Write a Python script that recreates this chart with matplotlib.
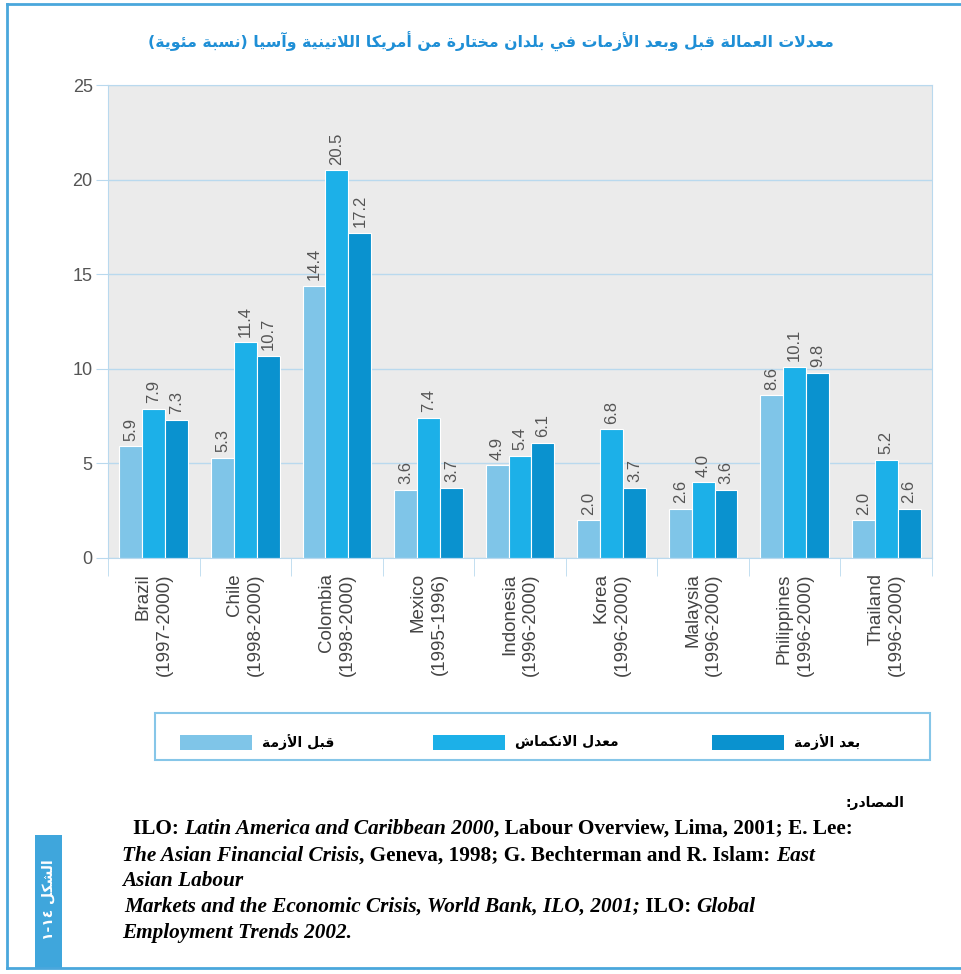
import matplotlib.pyplot as plt
from matplotlib.patches import Rectangle
from matplotlib.lines import Line2D
import numpy as np

# Data
countries = ["Brazil", "Chile", "Colombia", "Mexico", "Indonesia",
             "Korea", "Malaysia", "Philippines", "Thailand"]
periods = ["(1997-2000)", "(1998-2000)", "(1998-2000)", "(1995-1996)", "(1996-2000)",
           "(1996-2000)", "(1996-2000)", "(1996-2000)", "(1996-2000)"]
before_crisis = [5.9, 5.3, 14.4, 3.6, 4.9, 2.0, 2.6, 8.6, 2.0]
peak_rate = [7.9, 11.4, 20.5, 7.4, 5.4, 6.8, 4.0, 10.1, 5.2]
after_crisis = [7.3, 10.7, 17.2, 3.7, 6.1, 3.7, 3.6, 9.8, 2.6]
series_labels = ["قبل الأزمة", "معدل الانكماش", "بعد الأزمة"]
title = "معدلات العمالة قبل وبعد الأزمات في بلدان مختارة من أمريكا اللاتينية وآسيا (نسبة مئوية)"
sources_head = "المصادر"
figure_tag = "الشكل"

COLORS = ["#7fc5e8", "#1cb0e8", "#0a92cf"]
GRID = "#b9d9ee"
FRAME = "#4aa7dc"

# Arabic presentation forms: matplotlib does no shaping, so do it here
DUAL = {"ئ": 0xFE89, "ب": 0xFE8F, "ت": 0xFE95, "ث": 0xFE99, "ج": 0xFE9D, "ح": 0xFEA1,
        "خ": 0xFEA5, "س": 0xFEB1, "ش": 0xFEB5, "ص": 0xFEB9, "ض": 0xFEBD, "ط": 0xFEC1,
        "ظ": 0xFEC5, "ع": 0xFEC9, "غ": 0xFECD, "ف": 0xFED1, "ق": 0xFED5, "ك": 0xFED9,
        "ل": 0xFEDD, "م": 0xFEE1, "ن": 0xFEE5, "ه": 0xFEE9, "ي": 0xFEF1}
RIGHT = {"آ": 0xFE81, "أ": 0xFE83, "ؤ": 0xFE85, "إ": 0xFE87, "ا": 0xFE8D, "ة": 0xFE93,
         "د": 0xFEA9, "ذ": 0xFEAB, "ر": 0xFEAD, "ز": 0xFEAF, "و": 0xFEED, "ى": 0xFEEF}
LAM_ALEF = {"آ": 0xFEF5, "أ": 0xFEF7, "إ": 0xFEF9, "ا": 0xFEFB}


def shape(text):
    toks = []
    i = 0
    while i < len(text):
        if text[i] == "ل" and i + 1 < len(text) and text[i + 1] in LAM_ALEF:
            toks.append(("LA", text[i + 1]))
            i += 2
        else:
            toks.append(("C", text[i]))
            i += 1

    def kind(t):
        if t[0] == "LA":
            return "R"
        return "D" if t[1] in DUAL else ("R" if t[1] in RIGHT else None)

    out = []
    for j, t in enumerate(toks):
        k = kind(t)
        prev = kind(toks[j - 1]) if j > 0 else None
        nxt = kind(toks[j + 1]) if j + 1 < len(toks) else None
        jp = prev == "D" and k is not None
        jn = k == "D" and nxt is not None
        if t[0] == "LA":
            out.append(chr(LAM_ALEF[t[1]] + (1 if jp else 0)))
        elif k == "D":
            off = 3 if (jp and jn) else 1 if jp else 2 if jn else 0
            out.append(chr(DUAL[t[1]] + off))
        elif k == "R":
            out.append(chr(RIGHT[t[1]] + (1 if jp else 0)))
        else:
            out.append(t[1])
    vis = "".join(out)[::-1]
    return vis.translate(str.maketrans("()", ")("))


plt.rcParams["font.family"] = ["Liberation Sans", "DejaVu Sans"]

W, H = 962, 974
fig = plt.figure(figsize=(W / 100, H / 100), dpi=100)


def fx(px):
    return px / W


def fy(py):
    return 1 - py / H


# outer frame
fig.add_artist(Line2D([fx(7), 1], [fy(4), fy(4)], color=FRAME, lw=2))
fig.add_artist(Line2D([fx(7), fx(7)], [fy(4), fy(968)], color=FRAME, lw=2))
fig.add_artist(Line2D([fx(7), 1], [fy(968), fy(968)], color=FRAME, lw=2))

fig.text(fx(491), fy(42), shape(title), ha="center", va="center", color="#1f8fd6",
         fontsize=11.3, fontweight="bold", family="DejaVu Sans")

ax = fig.add_axes([fx(108), fy(558), fx(932) - fx(108), fy(85) - fy(558)])
ax.set_facecolor("#ebebeb")
x = np.arange(len(countries))
width = 0.25
for off, vals, col in zip([-width, 0, width], [before_crisis, peak_rate, after_crisis], COLORS):
    bars = ax.bar(x + off, vals, width, color=col, edgecolor="white", linewidth=0.8, zorder=2)
    for b, v in zip(bars, vals):
        ax.annotate(f"{v:.1f}", (b.get_x() + b.get_width() / 2, v), xytext=(0, 4),
                    textcoords="offset points", rotation=90, ha="center", va="bottom",
                    fontsize=12, color="#555555")

ax.set_xlim(-0.5, len(countries) - 0.5)
ax.set_ylim(0, 25)
ax.set_yticks(range(0, 26, 5))
ax.yaxis.grid(True, color=GRID, lw=1)
ax.set_axisbelow(True)
ax.tick_params(axis="y", length=9, color=GRID, labelcolor="#555555", labelsize=13, pad=2)
ax.set_xticks(x)
ax.set_xticklabels([f"{c}\n{p}" for c, p in zip(countries, periods)], rotation=90,
                   ha="center", va="top", multialignment="right", linespacing=1.3)
ax.tick_params(axis="x", length=0, labelcolor="#444444", labelsize=13.5, pad=11)
ax.set_xticks(np.arange(-0.5, len(countries)), minor=True)
ax.tick_params(axis="x", which="minor", length=13, color=GRID)
for s in ax.spines.values():
    s.set_color(GRID)

# legend box
fig.add_artist(Rectangle((fx(155), fy(760)), fx(930) - fx(155), fy(713) - fy(760),
                         facecolor="white", edgecolor="#86c6e8", lw=1.5))
patch_x = [180, 433, 712]
for px, col, lab in zip(patch_x, COLORS, series_labels):
    fig.add_artist(Rectangle((fx(px), fy(750)), fx(72), fy(735) - fy(750), facecolor=col,
                             edgecolor="none"))
    fig.text(fx(px + 82), fy(742), shape(lab), ha="left", va="center", fontsize=10,
             fontweight="bold", family="DejaVu Sans")

# side tab
fig.add_artist(Rectangle((fx(35), fy(968)), fx(27), fy(835) - fy(968), facecolor="#3fa6dc",
                         edgecolor="none"))
fig.text(fx(48.5), fy(900), "١-١٤ " + shape(figure_tag), rotation=90, ha="center",
         va="center", color="white", fontsize=10, fontweight="bold", family="DejaVu Sans")

# sources
fig.text(fx(905), fy(803), ":" + shape(sources_head), ha="right", va="center", fontsize=10,
         fontweight="bold", family="DejaVu Sans")

B, BI = "bold", "bolditalic"
source_lines = [
    (133, 834, [("ILO: ", B), ("Latin America and Caribbean 2000", BI),
                (", Labour Overview, Lima, 2001; E. Lee:", B)]),
    (122, 861, [("The Asian Financial Crisis", BI),
                (", Geneva, 1998; G. Bechterman and R. Islam: ", B), ("East", BI)]),
    (122, 886, [("Asian Labour", BI)]),
    (124, 912, [("Markets and the Economic Crisis, World Bank, ILO, 2001;", BI),
                (" ILO: ", B), ("Global", BI)]),
    (122, 938, [("Employment Trends 2002.", BI)]),
]
renderer = fig.canvas.get_renderer()
src_kw = dict(family="Liberation Serif", fontsize=15.3, fontweight="bold")


def seg_width(text, style):
    a = fig.text(0, 0, "|" + text + "|", style="italic" if style == BI else "normal", **src_kw)
    b = fig.text(0, 0, "||", style="italic" if style == BI else "normal", **src_kw)
    w = a.get_window_extent(renderer).width - b.get_window_extent(renderer).width
    a.remove()
    b.remove()
    return w


for x0, y0, segs in source_lines:
    xc = x0
    for text, style in segs:
        fig.text(fx(xc), fy(y0), text, ha="left", va="baseline",
                 style="italic" if style == BI else "normal", **src_kw)
        xc += seg_width(text, style)

fig.savefig("out.png", dpi=100)
